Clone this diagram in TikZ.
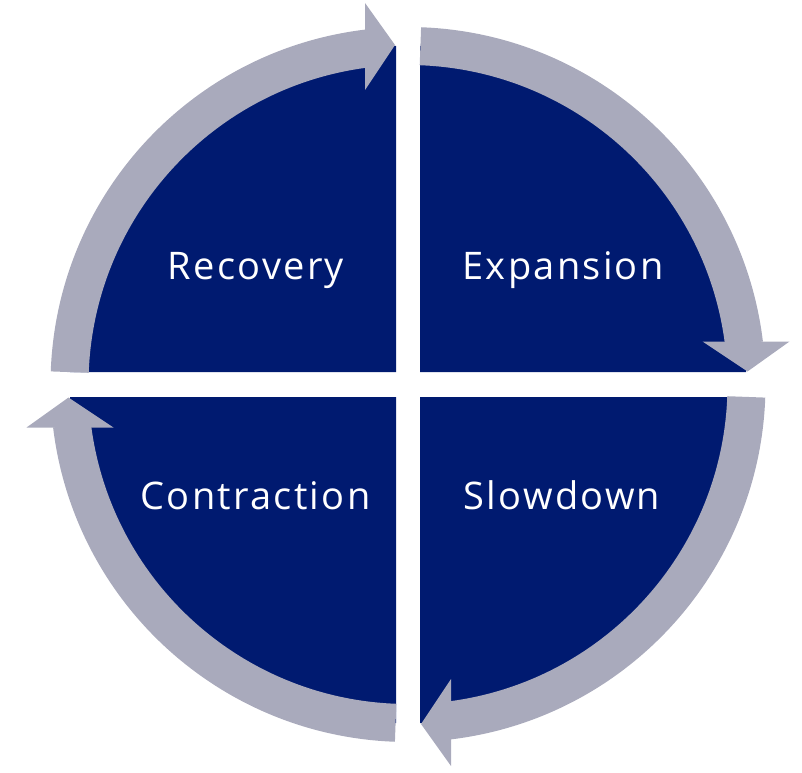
\documentclass[tikz,border=0pt]{standalone}
\usepackage{fontspec}
\setmainfont{Open Sans}[LetterSpace=6]
\definecolor{navy}{RGB}{0,26,112}
\definecolor{ringgray}{RGB}{169,170,188}
\tikzset{
  sector/.style={fill=navy},
  ringarrow/.style={fill=ringgray},
  label/.style={text=white,font=\fontsize{38}{42}\selectfont,anchor=base,inner sep=0pt}
}
\begin{document}
\begin{tikzpicture}[x=1pt,y=1pt]
\useasboundingbox (0,0) rectangle (802,772);
% sectors
\fill[sector] (396,400) -- ++(180:326) arc[start angle=180,end angle=90,radius=326] -- cycle;
\fill[sector] (420,400) -- ++(90:326) arc[start angle=90,end angle=0,radius=326] -- cycle;
\fill[sector] (420,375) -- ++(0:326) arc[start angle=0,end angle=-90,radius=326] -- cycle;
\fill[sector] (396,375) -- ++(-90:326) arc[start angle=-90,end angle=-180,radius=326] -- cycle;
% ring arrows
\coordinate (C) at (408,387.5);
\foreach \r in {0,-90,-180,-270}{
  \begin{scope}[shift={(C)},rotate=\r]
    \fill[ringarrow] (177.9:357.5) arc[start angle=177.9,end angle=96.9,radius=357.5]
      -- (96.9:319.5) arc[start angle=96.9,end angle=177.9,radius=319.5] -- cycle;
    \fill[ringarrow] (-43,381.5) -- (-13,339.5) -- (-43,294.5) -- cycle;
  \end{scope}
}
% labels
\node[label] (rec) at (256,492) {Recovery};
\node[label] (exp) at (563,492) {Expansion};
\node[label] (con) at (255.5,263) {Contraction};
\node[label] (slo) at (562,263) {Slowdown};
\end{tikzpicture}
\end{document}
